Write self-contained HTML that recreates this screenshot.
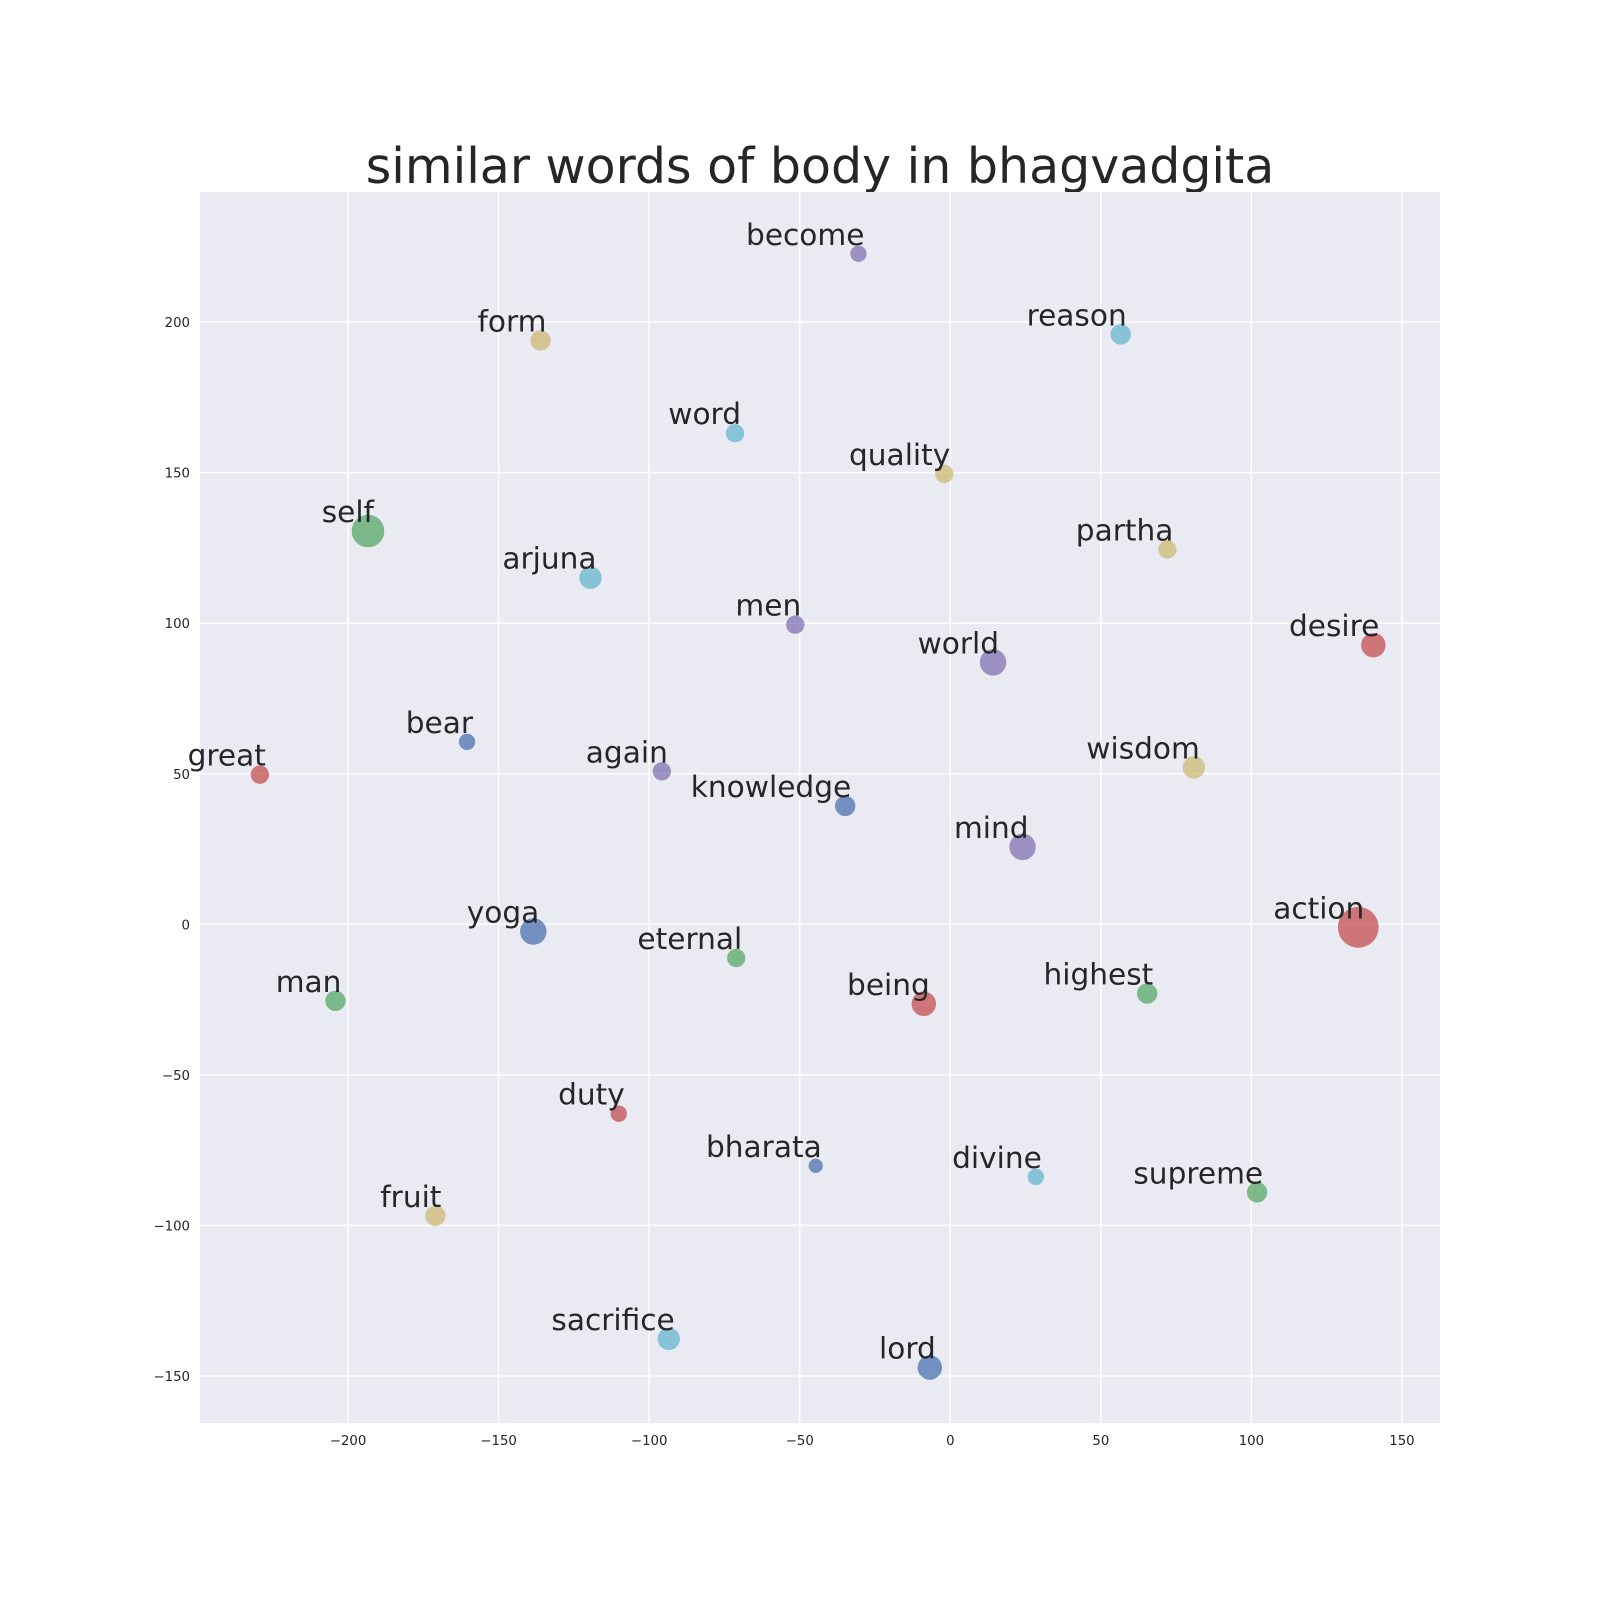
<!DOCTYPE html>
<html><head><meta charset="utf-8"><style>
body{margin:0;background:#fff}
svg text{font-family:"DejaVu Sans","Liberation Sans",sans-serif}
</style></head><body>
<svg id="chart" width="1600" height="1600" viewBox="0 0 1600 1600" xmlns="http://www.w3.org/2000/svg">
<rect width="1600" height="1600" fill="#fff"/>
<text x="820" y="183" text-anchor="middle" font-size="49" fill="#262626">similar words of body in bhagvadgita</text>
<rect x="200" y="192" width="1240" height="1231" fill="#EAEAF2"/>
<g id="grid"></g><g id="ticks"></g><g id="points"></g>
</svg>
<script>
const words=["become","form","reason","word","quality","self","partha","arjuna","men","desire","world","bear","great","again","wisdom","knowledge","mind","yoga","action","eternal","man","being","highest","duty","bharata","divine","supreme","fruit","sacrifice","lord"];
const xs=[-30.5,-136.1,56.6,-71.5,-2,-193.4,72.1,-119.5,-51.5,140.5,14.2,-160.5,-229.3,-95.8,80.9,-34.9,24,-138.5,135.5,-71.1,-204.2,-8.8,65.4,-110.1,-44.7,28.4,101.9,-171,-93.5,-6.8];
const ys=[222.7,193.9,195.9,163.1,149.6,130.6,124.5,115.1,99.5,92.7,87,60.6,49.7,50.8,52.1,39.3,25.7,-2.4,-1,-11.2,-25.4,-26.4,-23,-62.9,-80.2,-83.9,-89,-96.8,-137.7,-147.2];
const sizes=[8,10,10,9,9,16,9,11,9,12,13,8,9,9,11,10,13,13,20,9,10,12,10,8,7,8,10,10,11,12];
const colorIdx=[3,4,5,5,4,1,4,5,3,2,3,0,2,3,4,0,3,0,2,1,1,2,1,2,0,5,1,4,5,0];
const xTicks=[-200,-150,-100,-50,0,50,100,150];
const yTicks=[-150,-100,-50,0,50,100,150,200];
const palette=["#4C72B0","#55A868","#C44E52","#8172B2","#CCB974","#64B5CD"];
const X=v=>950.3+v*3.011, Y=v=>924.3-v*3.011;
const NS="http://www.w3.org/2000/svg";
function mk(t,a,p){const e=document.createElementNS(NS,t);for(const k in a)e.setAttribute(k,a[k]);p.appendChild(e);return e;}
const g=document.getElementById('grid'),tk=document.getElementById('ticks'),pt=document.getElementById('points');
const fmt=v=>v<0?'\u2212'+(-v):''+v;
xTicks.forEach(v=>{
 const l=mk('line',{x1:X(v),x2:X(v),y1:192,y2:1423,stroke:'#fff','stroke-width':1.5},g);
 
 
 const t=mk('text',{x:X(v),y:1445,'text-anchor':'middle','font-size':13.3,fill:'#262626'},tk);t.textContent=fmt(v);
 
 
});
yTicks.forEach(v=>{
 const l=mk('line',{x1:200,x2:1440,y1:Y(v),y2:Y(v),stroke:'#fff','stroke-width':1.5},g);
 
 
 const t=mk('text',{x:190,y:Y(v)+5,'text-anchor':'end','font-size':13.3,fill:'#262626'},tk);t.textContent=fmt(v);
 
 
});
words.forEach((w,i)=>{
 const cx=X(xs[i]),cy=Y(ys[i]);
 const c=mk('circle',{cx:cx,cy:cy,r:sizes[i]*1.02,fill:palette[colorIdx[i]],'fill-opacity':0.75},pt);
 
 
 const t=mk('text',{x:cx+6,y:cy-9,'text-anchor':'end','font-size':29.6,fill:'#262626'},pt);t.textContent=w;
 
 
});
</script>
</body></html>
